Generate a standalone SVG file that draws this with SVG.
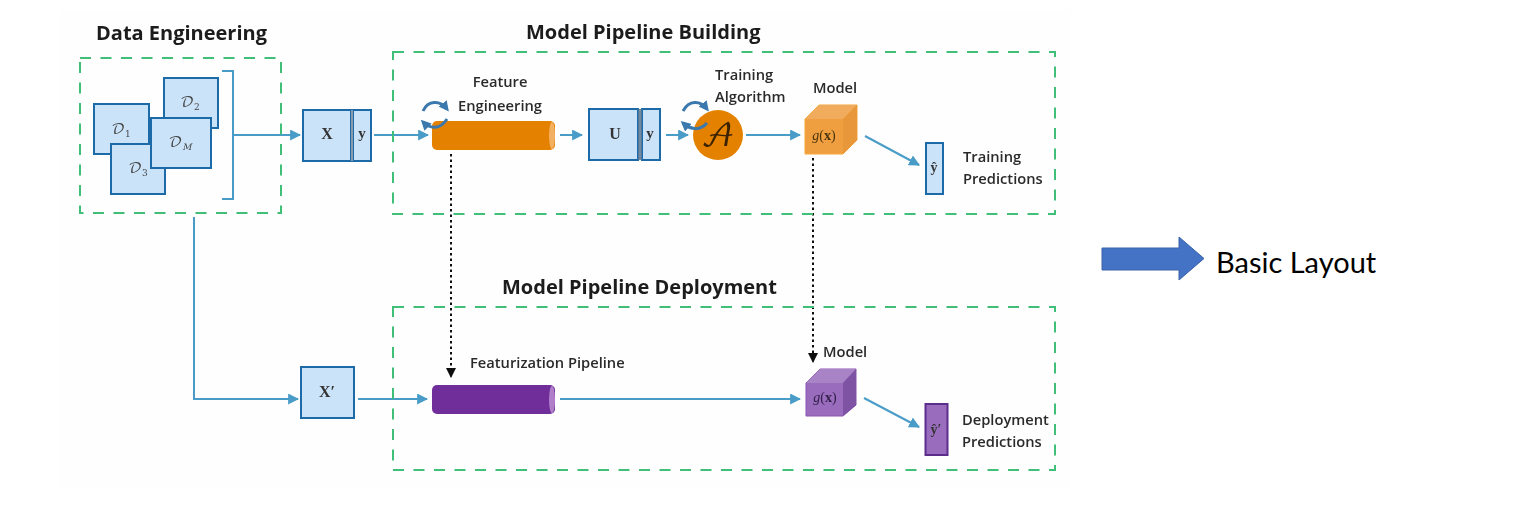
<svg xmlns="http://www.w3.org/2000/svg" width="1540" height="508" viewBox="0 0 1540 508">
<style>
.t{font-family:"Open Sans","Noto Sans",sans-serif;font-weight:600;fill:#2b2b2b;font-size:14.7px}
.h{font-family:"Open Sans","Noto Sans",sans-serif;font-weight:700;fill:#1c1c1c;font-size:20px}
.m{font-family:"Liberation Serif",serif;font-weight:700;fill:#333;text-anchor:middle}
.s{font-family:"DejaVu Math TeX Gyre","DejaVu Serif","Liberation Serif",serif;fill:#444;text-anchor:middle}
.box{fill:#cbe3f9;stroke:#1c6aa8;stroke-width:2}
.frame{fill:none;stroke:#3fbf78;stroke-width:2;stroke-dasharray:11 9.500}
.c{fill:none;stroke:#4a9cc7;stroke-width:2}
.d{fill:none;stroke:#111;stroke-width:2;stroke-dasharray:2.5 3}
.rot{fill:none;stroke:#3a78ad;stroke-width:3}
</style>
<defs>
<marker id="a" viewBox="0 0 10 10" refX="9" refY="5" markerWidth="5.500" markerHeight="5.500" orient="auto"><path d="M0 0L10 5L0 10Z" fill="#4a9cc7"/></marker>
<marker id="b" viewBox="0 0 10 10" refX="9" refY="5" markerWidth="5" markerHeight="5" orient="auto"><path d="M0 0L10 5L0 10Z" fill="#111"/></marker>
<marker id="r" viewBox="0 0 10 10" refX="7" refY="5" markerWidth="3.400" markerHeight="3.400" orient="auto"><path d="M0 0L10 5L0 10Z" fill="#3a78ad"/></marker>
<filter id="soft" x="-5%" y="-5%" width="110%" height="110%"><feGaussianBlur stdDeviation="0.45"/></filter>
</defs>
<rect x="60" y="10" width="1010" height="478" fill="#fefefe"/>
<g filter="url(#soft)">
<g id="connectors">
<path class="c" d="M222 71H233V199H222"/>
<path class="c" d="M234 135H300" marker-end="url(#a)"/>
<path class="c" d="M374 135H428" marker-end="url(#a)"/>
<path class="c" d="M560 135H582" marker-end="url(#a)"/>
<path class="c" d="M666 135H688" marker-end="url(#a)"/>
<path class="c" d="M746 135H800" marker-end="url(#a)"/>
<path class="c" d="M865 136L919 165" marker-end="url(#a)"/>
<path class="c" d="M194 217V399H298" marker-end="url(#a)"/>
<path class="c" d="M358 399H427" marker-end="url(#a)"/>
<path class="c" d="M560 399H800" marker-end="url(#a)"/>
<path class="c" d="M864 398L919 427" marker-end="url(#a)"/>
<path class="d" d="M451 154V377" marker-end="url(#b)"/>
<path class="d" d="M813 158V362" marker-end="url(#b)"/>
</g>
<g id="frame-data-engineering"><rect class="frame" x="80" y="58" width="201" height="155"/><text class="h" x="96" y="40">Data Engineering</text></g>
<g id="frame-building"><rect class="frame" x="393" y="52" width="662" height="162"/><text class="h" x="526" y="39">Model Pipeline Building</text></g>
<g id="frame-deployment"><rect class="frame" x="393" y="307" width="662" height="163"/><text class="h" x="502" y="294">Model Pipeline Deployment</text></g>
<g id="d2"><rect class="box" x="164" y="78" width="54" height="50"/><text class="s" x="190" y="107" font-size="15">𝒟<tspan font-size="9" dy="3">2</tspan></text></g>
<g id="d1"><rect class="box" x="94" y="104" width="55" height="50"/><text class="s" x="121" y="134" font-size="15">𝒟<tspan font-size="9" dy="3">1</tspan></text></g>
<g id="d3"><rect class="box" x="111" y="144" width="54" height="50"/><text class="s" x="138" y="173" font-size="15">𝒟<tspan font-size="9" dy="3">3</tspan></text></g>
<g id="dm"><rect class="box" x="151" y="118" width="60" height="50"/><text class="s" x="180" y="147" font-size="15">𝒟<tspan font-size="9" dy="3" font-style="italic">M</tspan></text></g>
<g id="xy"><rect class="box" x="303" y="110" width="48" height="51"/><rect class="box" x="353" y="110" width="18" height="51"/><path d="M352 110V161" stroke="#8a9aa8" stroke-width="2"/><text class="m" x="327" y="139" font-size="16">X</text><text class="m" x="362" y="138" font-size="15">y</text></g>
<g id="feature-engineering">
<rect x="432" y="121" width="123" height="29" rx="5" fill="#e48203"/><ellipse cx="552" cy="135.500" rx="3" ry="13.500" fill="#f2b061"/>
<path class="rot" d="M423 111C428 100 440 100 447 109" marker-end="url(#r)"/><path class="rot" d="M447 119C440 130 430 129 423 122" marker-end="url(#r)"/>
<text class="t" x="500" y="87" text-anchor="middle">Feature</text><text class="t" x="500" y="111" text-anchor="middle">Engineering</text></g>
<g id="uy"><rect class="box" x="589" y="109" width="49" height="51"/><rect class="box" x="642" y="109" width="18" height="51"/><path d="M640 109V160" stroke="#77899a" stroke-width="3"/><text class="m" x="615" y="139" font-size="16">U</text><text class="m" x="650" y="138" font-size="15">y</text></g>
<g id="training-algorithm"><circle cx="718" cy="135" r="25" fill="#e48203"/><text x="718" y="146" font-size="32" text-anchor="middle" fill="#3a2206" font-family="DejaVu Math TeX Gyre,DejaVu Serif,serif">𝒜</text>
<path class="rot" d="M683 111C689 100 700 100 707 109" marker-end="url(#r)"/><path class="rot" d="M707 123C700 131 691 130 683 123" marker-end="url(#r)"/>
<text class="t" x="715" y="80">Training</text><text class="t" x="715" y="102">Algorithm</text></g>
<g id="model-train"><path d="M805 119L819 105H857V140L843 154H805Z" fill="#ef9f3f" stroke="#f7a83a"/><path d="M805 119L819 105H857L843 119Z" fill="#f0ab5c"/><path d="M843 119L857 105V140L843 154Z" fill="#e8973a"/><text x="824" y="140" font-size="14" text-anchor="middle" font-family="Liberation Serif,serif" fill="#4a3410"><tspan font-style="italic">g</tspan>(<tspan font-weight="700">x</tspan>)</text><text class="t" x="835" y="93" text-anchor="middle">Model</text></g>
<g id="pred-train"><rect class="box" x="926" y="143" width="17" height="51"/><text class="m" x="934" y="172" font-size="14">ŷ</text><text class="t" x="963" y="162">Training</text><text class="t" x="963" y="184">Predictions</text></g>
<g id="x-prime"><rect class="box" x="301" y="367" width="53" height="51"/><text class="m" x="327" y="397" font-size="16">X′</text></g>
<g id="featurization"><rect x="432" y="385" width="123" height="29" rx="5" fill="#6f2f9b"/><ellipse cx="552" cy="399.500" rx="3" ry="13.500" fill="#b17fc9"/><text class="t" x="470" y="368">Featurization Pipeline</text></g>
<g id="model-deploy"><path d="M806 383L820 369H856V405L843 416H806Z" fill="#9a6cbd" stroke="#8a55b0"/><path d="M806 383L820 369H856L843 383Z" fill="#a884c6"/><path d="M843 383L856 369V405L843 416Z" fill="#7f52a3"/><text x="825" y="402" font-size="14" text-anchor="middle" font-family="Liberation Serif,serif" fill="#33204a"><tspan font-style="italic">g</tspan>(<tspan font-weight="700">x</tspan>)</text><text class="t" x="823" y="357">Model</text></g>
<g id="pred-deploy"><rect x="925.500" y="404" width="22" height="51" fill="#9a6cbd" stroke="#5b2d8c" stroke-width="2"/><text class="m" x="936" y="434" font-size="14" fill="#2d1a45">ŷ′</text><text class="t" x="962" y="425">Deployment</text><text class="t" x="962" y="447">Predictions</text></g>
</g>
<g id="basic-layout"><path d="M1102 248H1179V237L1204 258.500L1179 280V270H1102Z" fill="#4472c4" stroke="#3a62a8"/><text x="1216" y="273" font-size="29" fill="#000" font-family="Lato,'Open Sans',sans-serif">Basic Layout</text></g>
</svg>
